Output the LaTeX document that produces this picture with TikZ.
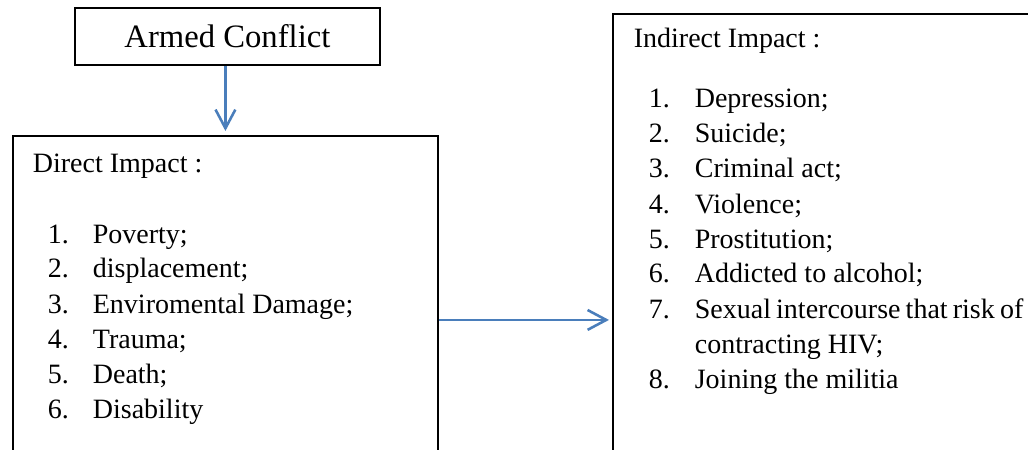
\documentclass[tikz,border=0pt]{standalone}
\usepackage{fontspec}
\setmainfont{Liberation Serif}
\usetikzlibrary{arrows.meta, positioning}
\definecolor{linkblue}{RGB}{74,126,187}
\newlength\pxu
\setlength\pxu{0.4286pt}
\newcommand{\lab}[2][45]{\makebox[#1\pxu][l]{#2}}
\tikzset{every picture/.style={line width=0.75pt}}

\begin{document}
\begin{tikzpicture}[x=\pxu, y=-\pxu,
    box/.style={draw, line width=0.8pt, inner sep=0pt, anchor=north west},
    line/.style={inner sep=0pt, font=\fontsize{12}{14}\selectfont},
    under/.style={below=35\pxu of #1.base west, anchor=base west},
    link/.style={draw=linkblue, line width=1.1pt, -{Straight Barb[length=8pt, width=8.5pt]}}]
        \useasboundingbox (0,0) rectangle (1028,450);
        \clip (0,0) rectangle (1028,450);
        % boxes
        \node[box, minimum width=305\pxu, minimum height=57\pxu, font=\fontsize{14}{16}\selectfont] (armed) at (74,7) {Armed Conflict};
        \node[box, minimum width=425\pxu, minimum height=368\pxu] (direct) at (12,135) {};
        \node[box, minimum width=428\pxu, minimum height=612\pxu] (indirect) at (612,13) {};
        % direct impact list
        \node[line, below right=38\pxu and 20\pxu of direct.north west, anchor=base west] (dhead) {Direct Impact :};
        \node[line, below right=70\pxu and 15\pxu of dhead.base west, anchor=base west] (d1) {\lab{1.}Poverty;};
        \node[line, under=d1] (d2) {\lab{2.}displacement;};
        \node[line, under=d2] (d3) {\lab{3.}Enviromental Damage;};
        \node[line, under=d3] (d4) {\lab{4.}Trauma;};
        \node[line, under=d4] (d5) {\lab{5.}Death;};
        \node[line, under=d5] (d6) {\lab{6.}Disability};
        % indirect impact list
        \node[line, below right=35\pxu and 21\pxu of indirect.north west, anchor=base west] (ihead) {Indirect Impact :};
        \node[line, below right=60\pxu and 15\pxu of ihead.base west, anchor=base west] (i1) {\lab[46]{1.}Depression;};
        \node[line, under=i1] (i2) {\lab[46]{2.}Suicide;};
        \node[line, under=i2] (i3) {\lab[46]{3.}Criminal act;};
        \node[line, under=i3] (i4) {\lab[46]{4.}Violence;};
        \node[line, under=i4] (i5) {\lab[46]{5.}Prostitution;};
        \node[line, under=i5] (i6) {\lab[46]{6.}Addicted to alcohol;};
        \node[line, under=i6] (i7) {\lab[46]{7.}\spaceskip=2.2pt plus 1pt\relax Sexual intercourse that risk of};
        \node[line, under=i7] (i7b) {\lab[46]{}contracting HIV;};
        \node[line, under=i7b] (i8) {\lab[46]{8.}Joining the militia};
        % connectors
        \draw[link, shorten >=4\pxu] (armed.south -| direct.north) -- (direct.north);
        \draw[link, shorten >=3\pxu] (direct.east) -- (indirect.west);
\end{tikzpicture}
\end{document}
